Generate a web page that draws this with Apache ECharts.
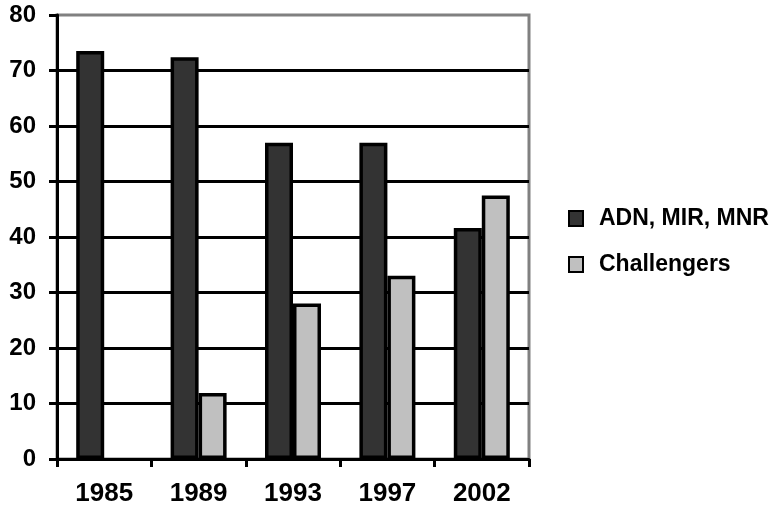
<!DOCTYPE html>
<html>
<head>
<meta charset="utf-8">
<script src="https://cdn.jsdelivr.net/npm/echarts@6/dist/echarts.min.js"></script>
<style>
  html, body { margin: 0; padding: 0; background: #fff; }
  #chart { width: 774px; height: 509px; }
</style>
</head>
<body>
<div id="chart"></div>
<script>
// values
var years = ['1985', '1989', '1993', '1997', '2002'];
var adnMirMnr = [73.5, 72.4, 57, 57, 41.6];
var challengers = [null, 11.9, 28, 33, 47.5];
var yTicks = [0, 10, 20, 30, 40, 50, 60, 70, 80];

var font = 'Liberation Sans, Arial, sans-serif';

var myChart = echarts.init(document.getElementById('chart'));
myChart.setOption({
    animation: false,
    grid: {
        left: 57, right: 245, top: 15, bottom: 50,
        show: true,
        borderColor: '#808080',
        borderWidth: 3
    },
    legend: {
        orient: 'vertical',
        left: 563,
        top: 202,
        itemWidth: 14,
        itemHeight: 15,
        itemGap: 23,
        icon: 'rect',
        itemStyle: { borderColor: '#000', borderWidth: 2 },
        textStyle: {
            fontFamily: font, fontWeight: 'bold', fontSize: 23, color: '#000',
            padding: [0, 0, 0, 11]
        },
        data: ['ADN, MIR, MNR', 'Challengers']
    },
    xAxis: {
        type: 'category',
        data: years,
        axisLine: { lineStyle: { color: '#000', width: 3 } },
        axisTick: { show: true, length: 8, lineStyle: { color: '#000', width: 3 } },
        axisLabel: { fontFamily: font, fontWeight: 'bold', fontSize: 26, color: '#000', margin: 22 }
    },
    yAxis: {
        type: 'value',
        min: yTicks[0],
        max: yTicks[yTicks.length - 1],
        interval: 10,
        axisLine: { show: true, lineStyle: { color: '#000', width: 3 } },
        axisTick: { show: true, length: 8, lineStyle: { color: '#000', width: 3 } },
        axisLabel: { fontFamily: font, fontWeight: 'bold', fontSize: 24, color: '#000', margin: 21 },
        splitLine: {
            show: true,
            showMinLine: false,
            showMaxLine: false,
            lineStyle: { color: '#000', width: 3 }
        }
    },
    series: [
        {
            name: 'ADN, MIR, MNR',
            type: 'bar',
            data: adnMirMnr,
            barWidth: 28,
            barGap: '0%',
            itemStyle: { color: '#333333', borderColor: '#000', borderWidth: 3.5 }
        },
        {
            name: 'Challengers',
            type: 'bar',
            data: challengers,
            barWidth: 28,
            barGap: '0%',
            itemStyle: { color: '#c0c0c0', borderColor: '#000', borderWidth: 3.5 }
        }
    ]
});
</script>
</body>
</html>
